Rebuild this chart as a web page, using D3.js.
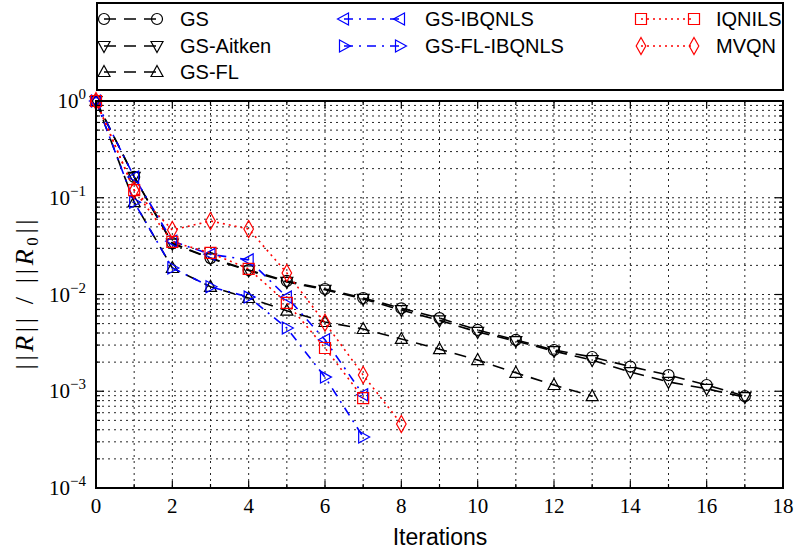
<!DOCTYPE html>
<html>
<head>
<meta charset="utf-8">
<script src="https://cdn.jsdelivr.net/npm/d3@7"></script>
<style>
  html, body { margin: 0; padding: 0; background: #fff; }
  svg { display: block; }
</style>
</head>
<body>
<svg id="chart" width="800" height="551"></svg>
<script>
// Relative residual per iteration for each coupling scheme
const iterations = d3.range(0, 18);

const gs        = [1, 0.164, 0.034, 0.0238, 0.0179, 0.0138, 0.0114, 0.0092, 0.0072, 0.0057, 0.0043, 0.0034, 0.00267, 0.00226, 0.00180, 0.00147, 0.00116, 0.00089];
const gsAitken  = [1, 0.164, 0.0335, 0.0236, 0.0177, 0.0135, 0.0112, 0.0090, 0.0069, 0.0054, 0.0041, 0.0033, 0.0026, 0.0021, 0.00158, 0.00125, 0.00106, 0.00087];
const gsFL      = [1, 0.090, 0.0188, 0.0120, 0.0092, 0.0068, 0.0052, 0.0044, 0.00347, 0.00272, 0.0021, 0.00155, 0.00116, 0.00089];
const gsIBQNLS  = [1, 0.164, 0.0356, 0.0260, 0.0228, 0.0094, 0.0034, 0.00092];
const gsFLIBQ   = [1, 0.090, 0.0188, 0.0120, 0.0094, 0.0045, 0.0014, 0.000337];
const iqnils    = [1, 0.120, 0.0350, 0.0269, 0.0184, 0.0082, 0.0028, 0.00085];
const mvqn      = [1, 0.120, 0.0464, 0.0575, 0.0475, 0.0167, 0.0051, 0.00147, 0.000459];

const xTicks = d3.range(0, 19, 2);
const yTicks = [1e-4, 1e-3, 1e-2, 1e-1, 1];
const yTickExp = ["\u22124", "\u22123", "\u22122", "\u22121", "0"];

const series = [
  { name: "GS",           values: gs,       color: "#000", dash: "12,8",       marker: "circle" },
  { name: "GS-Aitken",    values: gsAitken, color: "#000", dash: "12,8",       marker: "down" },
  { name: "GS-FL",        values: gsFL,     color: "#000", dash: "12,8",       marker: "up" },
  { name: "GS-IBQNLS",    values: gsIBQNLS, color: "#0000ff", dash: "9,6,2,6", marker: "left" },
  { name: "GS-FL-IBQNLS", values: gsFLIBQ,  color: "#0000ff", dash: "9,6,2,6", marker: "right" },
  { name: "IQNILS",       values: iqnils,   color: "#ff0000", dash: "2,4",     marker: "square" },
  { name: "MVQN",         values: mvqn,     color: "#ff0000", dash: "2,4",     marker: "diamond" }
];

const svg = d3.select("#chart");
const plotL = 96, plotR = 783, plotT = 101, plotB = 488;

const x = d3.scaleLinear().domain([0, 18]).range([plotL, plotR]);
const y = d3.scaleLog().domain([1e-4, 1]).range([plotB, plotT]);

// Open marker outlines centred on the origin
function markerPath(type) {
  switch (type) {
    case "circle": return "M5.5,0A5.5,5.5,0,1,1,-5.5,0A5.5,5.5,0,1,1,5.5,0Z";
    case "down":   return "M0,6.5L6,-4.5L-6,-4.5Z";
    case "up":     return "M0,-6.5L6,4.5L-6,4.5Z";
    case "left":   return "M-6.5,0L4.5,-6L4.5,6Z";
    case "right":  return "M6.5,0L-4.5,-6L-4.5,6Z";
    case "square": return "M-5.5,-5.5H5.5V5.5H-5.5Z";
    case "diamond":return "M0,-8.5L4.8,0L0,8.5L-4.8,0Z";
  }
}

// Grid: every integer iteration, every decade sub-step
const gridG = svg.append("g").attr("stroke", "#000").attr("stroke-width", 1)
  .attr("stroke-dasharray", "2,4").attr("opacity", 0.85);
d3.range(1, 18).forEach(v => {
  gridG.append("line").attr("x1", x(v)).attr("x2", x(v)).attr("y1", plotT).attr("y2", plotB);
});
const minorY = [];
for (let e = -4; e < 0; e++) for (let m = 1; m < 10; m++) minorY.push(m * Math.pow(10, e));
minorY.filter(v => v > 1e-4).forEach(v => {
  gridG.append("line").attr("x1", plotL).attr("x2", plotR).attr("y1", y(v)).attr("y2", y(v));
});

// Data lines and markers
const lineGen = d3.line().x((d, i) => x(iterations[i])).y(d => y(d));
series.forEach(s => {
  svg.append("path").datum(s.values)
    .attr("d", lineGen)
    .attr("fill", "none")
    .attr("stroke", s.color)
    .attr("stroke-width", 1.6)
    .attr("stroke-dasharray", s.dash);
  svg.append("g").selectAll("path").data(s.values).join("path")
    .attr("transform", (d, i) => `translate(${x(iterations[i])},${y(d)})`)
    .attr("d", markerPath(s.marker))
    .attr("fill", "none")
    .attr("stroke", s.color)
    .attr("stroke-width", 1.2);
});

// Axis ticks (inside, all four sides)
const tickG = svg.append("g").attr("stroke", "#000").attr("stroke-width", 1.2);
d3.range(0, 19).forEach(v => {
  const len = v % 2 === 0 ? 7 : 4;
  tickG.append("line").attr("x1", x(v)).attr("x2", x(v)).attr("y1", plotB).attr("y2", plotB - len);
  tickG.append("line").attr("x1", x(v)).attr("x2", x(v)).attr("y1", plotT).attr("y2", plotT + len);
});
yTicks.forEach(v => {
  tickG.append("line").attr("x1", plotL).attr("x2", plotL + 8).attr("y1", y(v)).attr("y2", y(v));
  tickG.append("line").attr("x1", plotR).attr("x2", plotR - 8).attr("y1", y(v)).attr("y2", y(v));
});
minorY.filter(v => v > 1e-4 && Math.abs(Math.log10(v) % 1) > 1e-9).forEach(v => {
  tickG.append("line").attr("x1", plotL).attr("x2", plotL + 4).attr("y1", y(v)).attr("y2", y(v));
  tickG.append("line").attr("x1", plotR).attr("x2", plotR - 4).attr("y1", y(v)).attr("y2", y(v));
});

// Frame
svg.append("rect").attr("x", plotL).attr("y", plotT).attr("width", plotR - plotL).attr("height", plotB - plotT)
  .attr("fill", "none").attr("stroke", "#000").attr("stroke-width", 2);

// Tick labels
const serif = "'Liberation Serif', 'DejaVu Serif', serif";
svg.append("g").selectAll("text").data(xTicks).join("text")
  .attr("x", d => x(d)).attr("y", plotB + 25)
  .attr("text-anchor", "middle")
  .attr("font-family", serif).attr("font-size", 21)
  .text(d => d);

yTicks.forEach((v, i) => {
  const t = svg.append("text").attr("x", 86).attr("y", y(v) + 7)
    .attr("text-anchor", "end").attr("font-family", serif).attr("font-size", 21);
  t.append("tspan").text("10");
  t.append("tspan").attr("dy", -9).attr("font-size", 15).text(yTickExp[i]);
});

// Axis titles
svg.append("text").attr("x", 440).attr("y", 545)
  .attr("text-anchor", "middle")
  .attr("font-family", "'Liberation Sans', Arial, sans-serif").attr("font-size", 23)
  .text("Iterations");

const yl = svg.append("text")
  .attr("transform", `translate(33,${(plotT + plotB) / 2}) rotate(-90)`)
  .attr("text-anchor", "middle")
  .attr("textLength", 150).attr("lengthAdjust", "spacing")
  .attr("font-family", serif).attr("font-size", 26);
yl.append("tspan").text("||");
yl.append("tspan").attr("font-style", "italic").text("R");
yl.append("tspan").text("|| / ||");
yl.append("tspan").attr("font-style", "italic").text("R");
yl.append("tspan").attr("font-size", 17).attr("dy", 5).text("0");
yl.append("tspan").attr("dy", -5).text("||");

// Legend
const lg = svg.append("g");
lg.append("rect").attr("x", 97).attr("y", 3).attr("width", 686).attr("height", 87)
  .attr("fill", "#fff").attr("stroke", "#000").attr("stroke-width", 2);
const colX = [[104, 157, 180], [344, 400, 425], [641, 694, 716]];
const slots = [[0, 0], [0, 1], [0, 2], [1, 0], [1, 1], [2, 0], [2, 1]];
const rowY = [19, 46, 72];
series.forEach((s, i) => {
  const [c, r] = slots[i];
  const [m1, m2, tx] = colX[c];
  const yy = rowY[r];
  lg.append("line").attr("x1", m1).attr("x2", m2).attr("y1", yy).attr("y2", yy)
    .attr("stroke", s.color).attr("stroke-width", 1.6).attr("stroke-dasharray", s.dash);
  [m1, m2].forEach(mx => {
    lg.append("path").attr("transform", `translate(${mx},${yy})`).attr("d", markerPath(s.marker))
      .attr("fill", "none").attr("stroke", s.color).attr("stroke-width", 1.2);
  });
  lg.append("text").attr("x", tx).attr("y", yy + 7)
    .attr("font-family", "'Liberation Sans', Arial, sans-serif").attr("font-size", 20)
    .text(s.name);
});
</script>
</body>
</html>
